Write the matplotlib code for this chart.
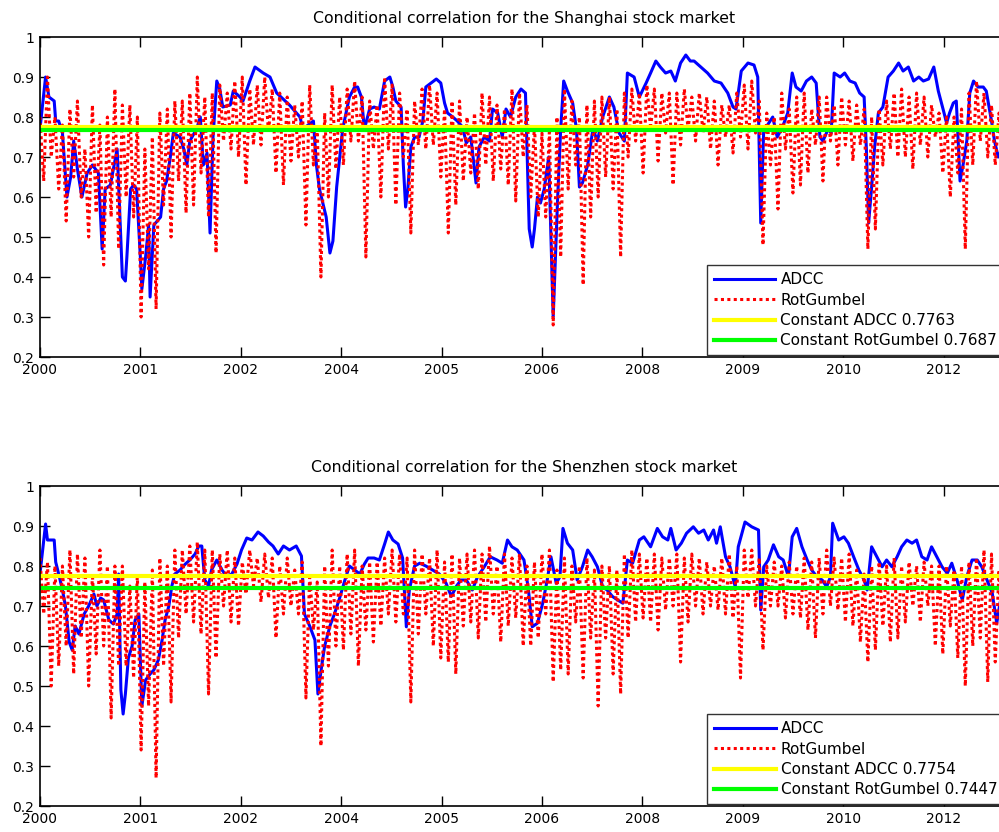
import numpy as np
import matplotlib.pyplot as plt

# tick labels as MATLAB datetick printed them
year_labels = ["2000", "2001", "2002", "2004", "2005", "2006", "2008", "2009", "2010", "2012"]
tick_step = 1.34

# ---- Shanghai ----
sh_adcc_t = [2000.00, 2000.075, 2000.12, 2000.19, 2000.21, 2000.25, 2000.30, 2000.36, 2000.41, 2000.45,
             2000.50, 2000.56, 2000.63, 2000.70, 2000.78, 2000.83, 2000.87, 2000.94, 2001.03, 2001.10,
             2001.14, 2001.16, 2001.21, 2001.25, 2001.29, 2001.34, 2001.36, 2001.41, 2001.45, 2001.47,
             2001.52, 2001.61, 2001.65, 2001.69, 2001.74, 2001.78, 2001.87, 2001.92, 2001.96, 2002.00,
             2002.09, 2002.14, 2002.18, 2002.23, 2002.27, 2002.31, 2002.36, 2002.40, 2002.44, 2002.54,
             2002.58, 2002.67, 2002.71, 2002.80, 2002.87, 2002.98, 2003.07, 2003.16, 2003.33, 2003.47,
             2003.51, 2003.65, 2003.69, 2003.73, 2003.82, 2003.87, 2003.91, 2003.96, 2004.04, 2004.13,
             2004.20, 2004.24, 2004.29, 2004.33, 2004.40, 2004.46, 2004.53, 2004.60, 2004.67, 2004.71,
             2004.75, 2004.82, 2004.85, 2004.88, 2004.91, 2004.95, 2005.00, 2005.06, 2005.11, 2005.15,
             2005.22, 2005.29, 2005.35, 2005.40, 2005.44, 2005.51, 2005.57, 2005.64, 2005.69, 2005.75,
             2005.82, 2005.86, 2005.93, 2006.00, 2006.04, 2006.11, 2006.17, 2006.22, 2006.28, 2006.35,
             2006.42, 2006.48, 2006.53, 2006.57, 2006.60, 2006.64, 2006.68, 2006.73, 2006.79, 2006.85,
             2006.91, 2006.95, 2006.99, 2007.04, 2007.11, 2007.16, 2007.20, 2007.24, 2007.31, 2007.38,
             2007.44, 2007.51, 2007.60, 2007.66, 2007.73, 2007.80, 2007.84, 2007.93, 2008.00, 2008.09,
             2008.15, 2008.22, 2008.28, 2008.35, 2008.42, 2008.48, 2008.55, 2008.62, 2008.68, 2008.73,
             2008.82, 2008.91, 2009.00, 2009.09, 2009.18, 2009.25, 2009.29, 2009.36, 2009.45, 2009.53,
             2009.58, 2009.62, 2009.66, 2009.71, 2009.78, 2009.84, 2009.91, 2009.98, 2010.04, 2010.09,
             2010.16, 2010.23, 2010.30, 2010.36, 2010.41, 2010.45, 2010.52, 2010.56, 2010.60, 2010.68,
             2010.74, 2010.81, 2010.88, 2010.94, 2011.00, 2011.03, 2011.06, 2011.10, 2011.14, 2011.19,
             2011.25, 2011.32, 2011.39, 2011.46, 2011.52, 2011.59, 2011.66, 2011.73, 2011.79, 2011.86,
             2011.93, 2011.99, 2012.06, 2012.10, 2012.14, 2012.19, 2012.23, 2012.28, 2012.32, 2012.37,
             2012.41, 2012.46, 2012.52, 2012.59, 2012.63, 2012.70, 2012.74, 2012.79, 2012.90]
sh_adcc_v = [0.77, 0.90, 0.85, 0.84, 0.79, 0.79, 0.76, 0.60, 0.65, 0.74,
             0.67, 0.60, 0.66, 0.68, 0.66, 0.47, 0.62, 0.63, 0.72, 0.40,
             0.39, 0.45, 0.62, 0.63, 0.62, 0.45, 0.37, 0.45, 0.53, 0.35,
             0.53, 0.55, 0.62, 0.64, 0.70, 0.76, 0.75, 0.72, 0.68, 0.74,
             0.77, 0.80, 0.68, 0.71, 0.51, 0.75, 0.89, 0.87, 0.825, 0.83,
             0.865, 0.85, 0.84, 0.89, 0.925, 0.91, 0.90, 0.86, 0.83, 0.80,
             0.77, 0.79, 0.68, 0.62, 0.55, 0.46, 0.49, 0.625, 0.77, 0.85,
             0.875, 0.875, 0.85, 0.77, 0.82, 0.825, 0.82, 0.89, 0.90, 0.875,
             0.84, 0.825, 0.68, 0.575, 0.62, 0.725, 0.75, 0.75, 0.79, 0.875,
             0.885, 0.895, 0.885, 0.835, 0.81, 0.80, 0.79, 0.775, 0.735, 0.75,
             0.635, 0.725, 0.75, 0.74, 0.82, 0.81, 0.75, 0.82, 0.80, 0.85,
             0.87, 0.86, 0.52, 0.475, 0.52, 0.60, 0.585, 0.62, 0.70, 0.30,
             0.60, 0.77, 0.89, 0.865, 0.835, 0.77, 0.625, 0.635, 0.68, 0.77,
             0.74, 0.80, 0.85, 0.825, 0.76, 0.74, 0.91, 0.90, 0.85, 0.885,
             0.91, 0.94, 0.925, 0.91, 0.915, 0.89, 0.935, 0.955, 0.94, 0.94,
             0.925, 0.91, 0.89, 0.885, 0.86, 0.825, 0.82, 0.915, 0.935, 0.93,
             0.90, 0.535, 0.77, 0.78, 0.80, 0.75, 0.775, 0.81, 0.91, 0.875,
             0.865, 0.89, 0.90, 0.885, 0.75, 0.74, 0.77, 0.76, 0.91, 0.90,
             0.91, 0.89, 0.885, 0.86, 0.85, 0.72, 0.535, 0.625, 0.725, 0.81,
             0.825, 0.90, 0.915, 0.935, 0.915, 0.925, 0.89, 0.90, 0.89, 0.895,
             0.925, 0.865, 0.815, 0.785, 0.81, 0.835, 0.84, 0.64, 0.68, 0.74,
             0.86, 0.89, 0.875, 0.875, 0.865, 0.79, 0.74, 0.70, 0.74]
# RotGumbel: upper and lower swing every 0.1 year from 2000.0
sh_rg_hi = [0.80, 0.90, 0.80, 0.78, 0.82, 0.84, 0.72, 0.83, 0.78, 0.80,
            0.87, 0.83, 0.83, 0.80, 0.72, 0.75, 0.81, 0.82, 0.84, 0.84,
            0.86, 0.90, 0.85, 0.86, 0.88, 0.86, 0.89, 0.90, 0.87, 0.88,
            0.90, 0.87, 0.86, 0.85, 0.83, 0.84, 0.88, 0.78, 0.81, 0.88,
            0.85, 0.87, 0.89, 0.85, 0.84, 0.83, 0.90, 0.88, 0.86, 0.82,
            0.84, 0.87, 0.88, 0.86, 0.82, 0.84, 0.84, 0.80, 0.81, 0.86,
            0.85, 0.83, 0.82, 0.87, 0.86, 0.83, 0.78, 0.76, 0.77, 0.80,
            0.87, 0.84, 0.80, 0.83, 0.84, 0.85, 0.85, 0.82, 0.86, 0.87,
            0.86, 0.88, 0.87, 0.86, 0.86, 0.86, 0.87, 0.85, 0.86, 0.85,
            0.84, 0.83, 0.83, 0.86, 0.88, 0.89, 0.84, 0.81, 0.80, 0.86,
            0.82, 0.85, 0.86, 0.82, 0.85, 0.85, 0.83, 0.85, 0.84, 0.83,
            0.82, 0.80, 0.82, 0.84, 0.86, 0.87, 0.85, 0.86, 0.85, 0.83,
            0.81, 0.80, 0.80, 0.82, 0.86, 0.89, 0.86, 0.83, 0.81]
sh_rg_lo = [0.64, 0.70, 0.62, 0.54, 0.65, 0.60, 0.50, 0.56, 0.43, 0.55,
            0.47, 0.60, 0.55, 0.30, 0.42, 0.32, 0.58, 0.50, 0.64, 0.56,
            0.58, 0.66, 0.55, 0.46, 0.74, 0.72, 0.70, 0.63, 0.73, 0.73,
            0.76, 0.66, 0.63, 0.69, 0.70, 0.53, 0.68, 0.40, 0.60, 0.67,
            0.68, 0.74, 0.74, 0.45, 0.72, 0.60, 0.72, 0.58, 0.70, 0.51,
            0.73, 0.72, 0.73, 0.65, 0.51, 0.58, 0.64, 0.66, 0.62, 0.68,
            0.64, 0.67, 0.63, 0.59, 0.70, 0.60, 0.55, 0.55, 0.28, 0.45,
            0.62, 0.68, 0.38, 0.55, 0.60, 0.65, 0.62, 0.45, 0.70, 0.74,
            0.66, 0.77, 0.69, 0.76, 0.63, 0.73, 0.77, 0.74, 0.76, 0.72,
            0.68, 0.75, 0.71, 0.75, 0.72, 0.76, 0.48, 0.68, 0.57, 0.72,
            0.61, 0.63, 0.66, 0.73, 0.64, 0.74, 0.68, 0.73, 0.69, 0.73,
            0.47, 0.52, 0.68, 0.72, 0.70, 0.70, 0.67, 0.73, 0.70, 0.75,
            0.66, 0.60, 0.66, 0.47, 0.68, 0.74, 0.70, 0.68, 0.62]
sh_const_adcc = 0.7763
sh_const_rg = 0.7687

# ---- Shenzhen ----
sz_adcc_t = [2000.00, 2000.075, 2000.10, 2000.19, 2000.21, 2000.25, 2000.30, 2000.34, 2000.39, 2000.43,
             2000.47, 2000.52, 2000.59, 2000.65, 2000.72, 2000.76, 2000.81, 2000.85, 2000.92, 2000.98,
             2001.03, 2001.05, 2001.08, 2001.11, 2001.14, 2001.18, 2001.23, 2001.27, 2001.32, 2001.36,
             2001.41, 2001.47, 2001.52, 2001.58, 2001.63, 2001.67, 2001.72, 2001.76, 2001.80, 2001.87,
             2001.94, 2002.00, 2002.07, 2002.12, 2002.16, 2002.20, 2002.25, 2002.29, 2002.36, 2002.43,
             2002.49, 2002.56, 2002.63, 2002.69, 2002.76, 2002.83, 2002.91, 2002.98, 2003.05, 2003.11,
             2003.18, 2003.25, 2003.33, 2003.42, 2003.49, 2003.53, 2003.60, 2003.67, 2003.71, 2003.76,
             2003.80, 2003.87, 2003.93, 2004.00, 2004.07, 2004.13, 2004.20, 2004.27, 2004.33, 2004.38,
             2004.46, 2004.53, 2004.60, 2004.65, 2004.71, 2004.78, 2004.84, 2004.89, 2004.93, 2005.00,
             2005.07, 2005.15, 2005.24, 2005.33, 2005.42, 2005.49, 2005.56, 2005.62, 2005.69, 2005.77,
             2005.84, 2005.93, 2006.01, 2006.10, 2006.17, 2006.24, 2006.30, 2006.37, 2006.46, 2006.52,
             2006.57, 2006.64, 2006.71, 2006.77, 2006.82, 2006.89, 2006.94, 2006.98, 2007.04, 2007.11,
             2007.17, 2007.24, 2007.31, 2007.37, 2007.44, 2007.51, 2007.57, 2007.64, 2007.71, 2007.78,
             2007.84, 2007.91, 2008.00, 2008.06, 2008.15, 2008.24, 2008.31, 2008.38, 2008.42, 2008.49,
             2008.56, 2008.63, 2008.72, 2008.79, 2008.86, 2008.92, 2008.99, 2009.03, 2009.08, 2009.15,
             2009.21, 2009.28, 2009.32, 2009.41, 2009.50, 2009.59, 2009.62, 2009.66, 2009.72, 2009.79,
             2009.86, 2009.92, 2009.99, 2010.04, 2010.10, 2010.17, 2010.24, 2010.30, 2010.37, 2010.44,
             2010.50, 2010.55, 2010.58, 2010.66, 2010.73, 2010.79, 2010.86, 2010.93, 2011.00, 2011.04,
             2011.10, 2011.17, 2011.24, 2011.30, 2011.37, 2011.44, 2011.50, 2011.57, 2011.64, 2011.70,
             2011.77, 2011.84, 2011.90, 2011.97, 2012.04, 2012.11, 2012.17, 2012.24, 2012.31, 2012.37,
             2012.44, 2012.51, 2012.57, 2012.64, 2012.71, 2012.77, 2012.82, 2012.90]
sz_adcc_v = [0.78, 0.905, 0.865, 0.865, 0.81, 0.78, 0.74, 0.70, 0.61, 0.59,
             0.65, 0.63, 0.68, 0.70, 0.73, 0.70, 0.72, 0.715, 0.665, 0.655,
             0.68, 0.78, 0.49, 0.43, 0.48, 0.57, 0.60, 0.665, 0.68, 0.45,
             0.515, 0.53, 0.54, 0.565, 0.615, 0.665, 0.70, 0.75, 0.78, 0.79,
             0.805, 0.815, 0.83, 0.85, 0.85, 0.765, 0.75, 0.79, 0.815, 0.79,
             0.775, 0.78, 0.805, 0.84, 0.87, 0.865, 0.885, 0.875, 0.86, 0.85,
             0.83, 0.85, 0.84, 0.85, 0.825, 0.68, 0.65, 0.615, 0.48, 0.55,
             0.60, 0.65, 0.68, 0.72, 0.765, 0.80, 0.79, 0.78, 0.805, 0.82,
             0.82, 0.815, 0.855, 0.885, 0.865, 0.855, 0.82, 0.648, 0.74, 0.80,
             0.807, 0.80, 0.79, 0.78, 0.757, 0.724, 0.75, 0.765, 0.765, 0.74,
             0.773, 0.798, 0.823, 0.815, 0.807, 0.865, 0.848, 0.84, 0.815, 0.74,
             0.648, 0.657, 0.707, 0.765, 0.823, 0.757, 0.773, 0.894, 0.857, 0.84,
             0.765, 0.798, 0.84, 0.823, 0.798, 0.748, 0.74, 0.724, 0.715, 0.707,
             0.815, 0.807, 0.865, 0.873, 0.848, 0.894, 0.873, 0.865, 0.894, 0.84,
             0.857, 0.882, 0.898, 0.882, 0.89, 0.865, 0.89, 0.857, 0.898, 0.823,
             0.798, 0.748, 0.848, 0.91, 0.898, 0.89, 0.69, 0.798, 0.815, 0.853,
             0.823, 0.815, 0.773, 0.873, 0.894, 0.848, 0.815, 0.79, 0.773, 0.765,
             0.748, 0.773, 0.907, 0.865, 0.873, 0.857, 0.823, 0.79, 0.765, 0.74,
             0.848, 0.823, 0.798, 0.815, 0.798, 0.823, 0.848, 0.865, 0.857, 0.865,
             0.823, 0.815, 0.848, 0.823, 0.798, 0.782, 0.807, 0.765, 0.715, 0.773,
             0.815, 0.815, 0.798, 0.765, 0.732, 0.657, 0.715, 0.74]
sz_rg_hi = [0.82, 0.81, 0.80, 0.80, 0.84, 0.83, 0.82, 0.78, 0.84, 0.80,
            0.80, 0.80, 0.75, 0.78, 0.76, 0.79, 0.82, 0.80, 0.84, 0.84,
            0.85, 0.86, 0.84, 0.84, 0.83, 0.84, 0.82, 0.81, 0.84, 0.82,
            0.83, 0.82, 0.80, 0.82, 0.79, 0.81, 0.78, 0.76, 0.80, 0.84,
            0.80, 0.83, 0.84, 0.80, 0.81, 0.81, 0.82, 0.84, 0.83, 0.82,
            0.84, 0.83, 0.82, 0.84, 0.81, 0.83, 0.82, 0.83, 0.84, 0.83,
            0.85, 0.80, 0.83, 0.82, 0.83, 0.80, 0.81, 0.83, 0.84, 0.79,
            0.82, 0.80, 0.80, 0.82, 0.79, 0.80, 0.80, 0.79, 0.83, 0.84,
            0.83, 0.82, 0.83, 0.82, 0.82, 0.83, 0.82, 0.83, 0.82, 0.81,
            0.80, 0.82, 0.83, 0.80, 0.84, 0.84, 0.82, 0.80, 0.81, 0.80,
            0.81, 0.80, 0.82, 0.81, 0.82, 0.84, 0.82, 0.82, 0.83, 0.79,
            0.78, 0.80, 0.81, 0.80, 0.82, 0.80, 0.81, 0.80, 0.81, 0.80,
            0.80, 0.80, 0.79, 0.80, 0.81, 0.82, 0.84, 0.83, 0.79]
sz_rg_lo = [0.68, 0.50, 0.55, 0.60, 0.53, 0.62, 0.50, 0.58, 0.60, 0.42,
            0.55, 0.55, 0.52, 0.34, 0.45, 0.27, 0.55, 0.46, 0.62, 0.68,
            0.66, 0.63, 0.48, 0.57, 0.70, 0.66, 0.65, 0.73, 0.75, 0.71,
            0.72, 0.62, 0.68, 0.70, 0.68, 0.47, 0.64, 0.35, 0.55, 0.60,
            0.59, 0.63, 0.55, 0.64, 0.61, 0.65, 0.68, 0.66, 0.68, 0.46,
            0.63, 0.68, 0.60, 0.57, 0.56, 0.53, 0.65, 0.66, 0.62, 0.66,
            0.68, 0.61, 0.65, 0.67, 0.60, 0.60, 0.62, 0.68, 0.51, 0.54,
            0.53, 0.66, 0.52, 0.62, 0.45, 0.62, 0.53, 0.48, 0.62, 0.66,
            0.67, 0.66, 0.64, 0.69, 0.70, 0.56, 0.66, 0.70, 0.68, 0.70,
            0.69, 0.68, 0.67, 0.52, 0.72, 0.70, 0.59, 0.70, 0.70, 0.67,
            0.68, 0.67, 0.64, 0.62, 0.68, 0.70, 0.69, 0.66, 0.65, 0.61,
            0.56, 0.59, 0.65, 0.61, 0.62, 0.66, 0.70, 0.66, 0.70, 0.60,
            0.58, 0.65, 0.57, 0.50, 0.60, 0.62, 0.51, 0.56, 0.52]
sz_const_adcc = 0.7754
sz_const_rg = 0.7447


def draw_panel(ax, title, adcc_t, adcc_v, rg_hi, rg_lo, c_adcc, c_rg):
    ax.plot(adcc_t, adcc_v, color="blue", lw=2.2, label="ADCC")
    # RotGumbel zig-zags between upper and lower swing
    t = 2000 + 0.1 * np.arange(len(rg_hi))
    rg_t = np.column_stack([t, t + 0.05]).ravel()
    rg_v = np.column_stack([rg_hi, rg_lo]).ravel()
    ax.plot(rg_t, rg_v, color="red", lw=2.2, ls=(0, (1, 1.1)), label="RotGumbel")
    ax.axhline(c_adcc, color="yellow", lw=3, label="Constant ADCC %.4f" % c_adcc)
    ax.axhline(c_rg, color="lime", lw=3, label="Constant RotGumbel %.4f" % c_rg)

    ax.set_xlim(2000, 2012.92)
    ax.set_ylim(0.2, 1)
    ax.set_xticks([2000 + tick_step * k for k in range(len(year_labels))])
    ax.set_xticklabels(year_labels)
    yt = [0.2, 0.3, 0.4, 0.5, 0.6, 0.7, 0.8, 0.9, 1.0]
    ax.set_yticks(yt)
    ax.set_yticklabels(["%g" % v for v in yt])
    ax.tick_params(direction="in", top=True, right=False, length=7, width=1,
                   labelsize=10, pad=4)
    for s in ax.spines.values():
        s.set_linewidth(1.2)
    ax.set_title(title, fontsize=11.3, pad=10)
    ax.legend(loc="lower right", bbox_to_anchor=(0.996, 0.006), borderaxespad=0,
              fontsize=11, handlelength=4.05, handletextpad=0.33, labelspacing=0.35,
              borderpad=0.45, fancybox=False, framealpha=1, edgecolor="#333333")


fig = plt.figure(figsize=(9.99, 8.32), dpi=100)
ax1 = fig.add_axes([0.040, 0.5709, 0.969, 0.3846])
ax2 = fig.add_axes([0.040, 0.03125, 0.969, 0.3846])
draw_panel(ax1, "Conditional correlation for the Shanghai stock market",
           sh_adcc_t, sh_adcc_v, sh_rg_hi, sh_rg_lo, sh_const_adcc, sh_const_rg)
draw_panel(ax2, "Conditional correlation for the Shenzhen stock market",
           sz_adcc_t, sz_adcc_v, sz_rg_hi, sz_rg_lo, sz_const_adcc, sz_const_rg)
fig.savefig("out.png", dpi=100)
